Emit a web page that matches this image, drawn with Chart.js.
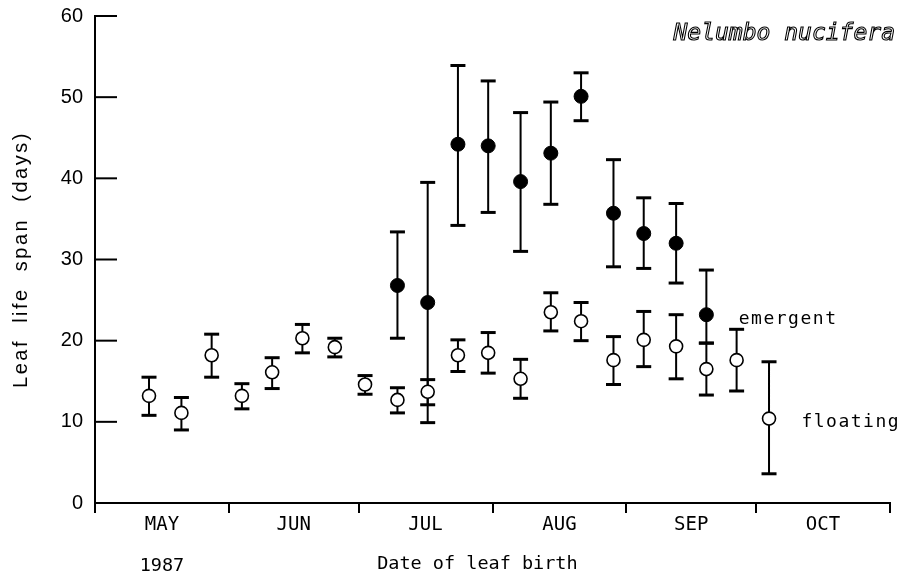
<!DOCTYPE html>
<html>
<head>
<meta charset="utf-8">
<script src="https://cdn.jsdelivr.net/npm/chart.js@4.4.0/dist/chart.umd.min.js"></script>
<style>
  html, body { margin: 0; padding: 0; background: #fff; }
</style>
</head>
<body>
<canvas id="lifespan" width="906" height="582"></canvas>
<script>
// ---- data: leaf life span by date of leaf birth, Nelumbo nucifera 1987 ----
// days counted from 1 May, one cohort per week
const birthDays = [12.5, 20, 27, 34, 41, 48, 55.5, 62.5, 70, 77, 84, 91, 98.5, 105.5, 112.5, 120, 127, 134.5, 141.5, 148.5, 156];

// floating leaves (mean, lower and upper end of bar)
const floatMean = [13.2, 11.1, 18.2, 13.2, 16.1, 20.3, 19.2, 14.6, 12.7, 13.7, 18.2, 18.5, 15.3, 23.5, 22.4, 17.6, 20.1, 19.3, 16.5, 17.6, 10.4];
const floatLow  = [10.8, 9.0, 15.5, 11.6, 14.1, 18.5, 18.0, 13.4, 11.1, 12.1, 16.2, 16.0, 12.9, 21.2, 20.0, 14.6, 16.8, 15.3, 13.3, 13.8, 3.6];
const floatHigh = [15.5, 13.0, 20.8, 14.7, 17.9, 22.0, 20.3, 15.7, 14.2, 15.2, 20.1, 21.0, 17.7, 25.9, 24.7, 20.5, 23.6, 23.2, 19.7, 21.4, 17.4];

// emergent leaves only appear from the 9th cohort on
const emergDays = birthDays.slice(8, 19);
const emergMean = [26.8, 24.7, 44.2, 44.0, 39.6, 43.1, 50.1, 35.7, 33.2, 32.0, 23.2];
const emergLow  = [20.3, 9.9, 34.2, 35.8, 31.0, 36.8, 47.1, 29.1, 28.9, 27.1, 19.7];
const emergHigh = [33.4, 39.5, 53.9, 52.0, 48.1, 49.4, 53.0, 42.3, 37.6, 36.9, 28.7];

// axes
const monthNames  = ["MAY", "JUN", "JUL", "AUG", "SEP", "OCT"];
const monthStarts = [0, 31, 61, 92, 123, 153, 184];
const yTicks      = [0, 10, 20, 30, 40, 50, 60];

// ---- helpers ----
// low/high pairs split by a null point so each bar is its own segment
function errorBarPoints(days, low, high) {
  const pts = [];
  days.forEach((d, i) => {
    pts.push({ x: d, y: low[i] }, { x: d, y: high[i] }, { x: d, y: null });
  });
  return pts;
}

function meanPoints(days, mean) {
  return days.map((d, i) => ({ x: d, y: mean[i] }));
}

const MONO = "'DejaVu Sans Mono', monospace";

// inward y ticks, month labels and the free text on the plot
const plotText = {
  id: "plotText",
  afterDraw(chart) {
    const { ctx, chartArea, scales: { x, y } } = chart;
    ctx.save();
    ctx.strokeStyle = "#000";
    ctx.fillStyle = "#000";
    ctx.lineWidth = 2;

    yTicks.forEach(v => {
      const py = y.getPixelForValue(v);
      ctx.beginPath();
      ctx.moveTo(chartArea.left, py);
      ctx.lineTo(chartArea.left + 22, py);
      ctx.stroke();
    });

    // month names between the boundary ticks
    ctx.font = "19px " + MONO;
    ctx.textAlign = "center";
    ctx.textBaseline = "middle";
    monthNames.forEach((m, i) => {
      const mid = (monthStarts[i] + monthStarts[i + 1]) / 2;
      ctx.fillText(m, x.getPixelForValue(mid), chartArea.bottom + 22);
    });

    ctx.font = "18.5px " + MONO;
    ctx.fillText("1987", x.getPixelForValue(15.5), chartArea.bottom + 63);
    ctx.fillText("Date of leaf birth", x.getPixelForValue(88.5), chartArea.bottom + 61);

    // series names
    ctx.textAlign = "left";
    ctx.font = "18px " + MONO;
    ctx.letterSpacing = "1.5px";
    ctx.fillText("emergent", x.getPixelForValue(149), y.getPixelForValue(22.6));
    ctx.fillText("floating", x.getPixelForValue(163.5), y.getPixelForValue(9.9));

    // y axis title
    ctx.save();
    ctx.translate(21, (chartArea.top + chartArea.bottom) / 2);
    ctx.rotate(-Math.PI / 2);
    ctx.textAlign = "center";
    ctx.font = "20px 'Liberation Sans', sans-serif";
    ctx.letterSpacing = "2.5px";
    ctx.fillText("Leaf  life  span  (days)", 0, 0);
    ctx.restore();

    // species name, outlined italic
    ctx.textAlign = "right";
    ctx.font = "italic 23px " + MONO;
    ctx.letterSpacing = "0px";
    ctx.lineWidth = 1.1;
    ctx.strokeText("Nelumbo nucifera", chartArea.right + 5, chartArea.top + 18);
    ctx.restore();
  }
};

// ---- chart ----
new Chart(document.getElementById("lifespan"), {
  type: "scatter",
  data: {
    datasets: [
      {
        label: "emergent",
        data: meanPoints(emergDays, emergMean),
        pointRadius: 7,
        pointBackgroundColor: "#000",
        pointBorderColor: "#000",
        pointBorderWidth: 1,
        order: 1
      },
      {
        label: "floating",
        data: meanPoints(birthDays, floatMean),
        pointRadius: 6.5,
        pointBackgroundColor: "#fff",
        pointBorderColor: "#000",
        pointBorderWidth: 1.6,
        order: 1
      },
      {
        label: "emergent range",
        data: errorBarPoints(emergDays, emergLow, emergHigh),
        showLine: true,
        spanGaps: false,
        borderColor: "#000",
        borderWidth: 2,
        pointStyle: "line",
        pointRadius: 7.5,
        pointBorderWidth: 3,
        pointBorderColor: "#000",
        order: 2
      },
      {
        label: "floating range",
        data: errorBarPoints(birthDays, floatLow, floatHigh),
        showLine: true,
        spanGaps: false,
        borderColor: "#000",
        borderWidth: 2,
        pointStyle: "line",
        pointRadius: 7.5,
        pointBorderWidth: 3,
        pointBorderColor: "#000",
        order: 2
      }
    ]
  },
  options: {
    responsive: false,
    animation: false,
    devicePixelRatio: 1,
    layout: { padding: { top: 16, right: 16, left: 0, bottom: 0 } },
    plugins: {
      legend: { display: false },
      tooltip: { enabled: false },
      title: { display: false }
    },
    scales: {
      x: {
        type: "linear",
        min: 0,
        max: 184,
        afterBuildTicks: s => { s.ticks = monthStarts.map(v => ({ value: v })); },
        afterFit: s => { s.height = 79; },
        ticks: { callback: () => "" },
        grid: { drawOnChartArea: false, drawTicks: true, tickLength: 10, color: "#000", lineWidth: 2 },
        border: { display: true, color: "#000", width: 2 }
      },
      y: {
        min: 0,
        max: 60,
        afterBuildTicks: s => { s.ticks = yTicks.map(v => ({ value: v })); },
        afterFit: s => { s.width = 95; },
        ticks: { padding: 4, color: "#000", font: { family: "'Liberation Sans', sans-serif", size: 20 } },
        grid: { display: false },
        border: { display: true, color: "#000", width: 2 }
      }
    }
  },
  plugins: [plotText]
});
</script>
</body>
</html>
